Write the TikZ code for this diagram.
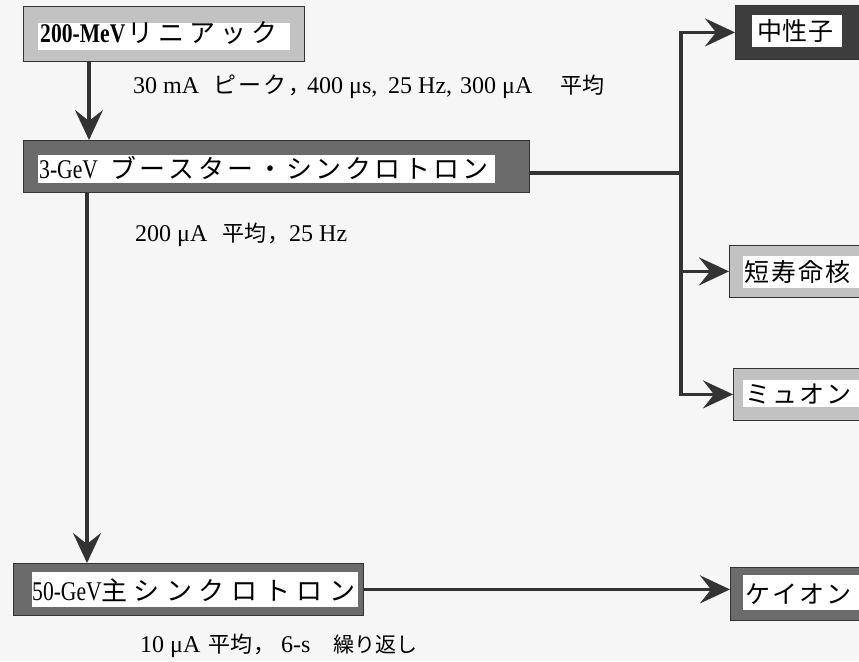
\documentclass[tikz,border=0pt]{standalone}
\usepackage{fontspec}
\setmainfont{Liberation Serif}
\newfontfamily\boxlat[FakeStretch=0.8]{Liberation Serif}
\newfontfamily\jp{Noto Sans CJK JP}
\usetikzlibrary{arrows.meta}
\newlength\cpitch
\def\pitchedi#1{\ifx\relax#1\else\makebox[\cpitch][l]{#1}\expandafter\pitchedi\fi}
\newcommand\jpp[2]{\setlength\cpitch{#1}\pitchedi#2\relax}
\definecolor{paper}{gray}{0.965}
\definecolor{lgt}{gray}{0.76}
\definecolor{drk}{gray}{0.42}
\definecolor{vdrk}{gray}{0.24}
\definecolor{ink}{gray}{0.2}
\begin{document}
\begin{tikzpicture}[x=1pt,y=-1pt,
  obox/.style={rectangle, anchor=north west, draw=ink, line width=0.8pt, inner sep=0pt},
  conn/.style={draw=ink, line width=3.2pt},
  arr/.style={conn, -{Stealth[length=30pt,width=28pt,inset=11pt]}},
  boxtext/.style={anchor=base west, inner sep=0pt, font=\boxlat\fontsize{27}{30}\selectfont},
  sidetext/.style={anchor=base west, inner sep=0pt, font=\jp\fontsize{25}{30}\selectfont},
  lbl/.style={anchor=base west, inner sep=0pt, font=\fontsize{24}{28}\selectfont},
  ]
\fill[paper] (0,0) rectangle (859,661);
\useasboundingbox (0,0) rectangle (859,661);
\clip (0,0) rectangle (859,661);

% left column boxes
\node[obox, fill=lgt, minimum width=281pt, minimum height=55pt] (linac) at (23,6) {};
\fill[white] (38,23) rectangle (290,50);
\node[boxtext] (linact) at (40,43) {\makebox[87pt][l]{\bfseries 200-MeV}{\jp\fontsize{26}{30}\selectfont\jpp{31pt}{リニアック}}};

\node[obox, fill=drk, minimum width=506pt, minimum height=52pt] (booster) at (23,140) {};
\fill[white] (38,155) rectangle (495,183);
\node[boxtext] (boostert) at (39,178) {\makebox[71pt][l]{3-GeV}{\jp\fontsize{26}{30}\selectfont\jpp{29.4pt}{ブースター・シンクロトロン}}};

\node[obox, fill=drk, minimum width=350pt, minimum height=52pt] (main) at (13,563) {};
\fill[white] (32,572) rectangle (358,607);
\node[boxtext] (maint) at (32,600) {\makebox[69pt][l]{50-GeV}{\jp\fontsize{26}{30}\selectfont\jpp{32.6pt}{主シンクロトロン}}};

% right column boxes
\node[obox, fill=vdrk, minimum width=150pt, minimum height=54pt] (neutron) at (735,5) {};
\fill[white] (752,15) rectangle (842,47);
\node[sidetext] (neutront) at (757,41) {\jpp{25.5pt}{中性子}};

\node[obox, fill=lgt, minimum width=150pt, minimum height=52pt] (rib) at (729,245) {};
\fill[white] (743,256) rectangle (880,288);
\node[sidetext] (ribt) at (744,281) {\jpp{27pt}{短寿命核}};

\node[obox, fill=lgt, minimum width=150pt, minimum height=52pt] (muon) at (733,368) {};
\fill[white] (743,380) rectangle (880,407);
\node[sidetext] (muont) at (745,403) {\jpp{27pt}{ミュオン}};

\node[obox, fill=drk, minimum width=150pt, minimum height=53pt] (kaon) at (730,567) {};
\fill[white] (743,575) rectangle (880,610);
\node[sidetext] (kaont) at (745,603) {\jpp{27pt}{ケイオン}};

% labels
\node[lbl] (l1) at (133,93) {\makebox[80pt][l]{30 mA}\makebox[75pt][l]{\jp\fontsize{23}{26}\selectfont\jpp{25pt}{ピーク}}\makebox[19pt][l]{\jp\fontsize{22}{26}\selectfont ，}\makebox[81pt][l]{400 μs,}\makebox[72pt][l]{25 Hz,}\makebox[100pt][l]{300 μA}{\jp\fontsize{22}{26}\selectfont 平均}};
\node[lbl] (l2) at (135,241) {\makebox[87pt][l]{200 μA}\makebox[45pt][l]{\jp\fontsize{22}{26}\selectfont 平均}\makebox[22pt][l]{\jp\fontsize{22}{26}\selectfont ，}25 Hz};
\node[lbl] (l3) at (140,652) {\makebox[68pt][l]{10 μA}\makebox[45pt][l]{\jp\fontsize{22}{26}\selectfont 平均}\makebox[28pt][l]{\jp\fontsize{22}{26}\selectfont ，}\makebox[52pt][l]{6-s}{\jp\fontsize{21}{26}\selectfont 繰り返し}};

% connectors
\coordinate (colA) at (89,0);
\coordinate (colB) at (87,0);
\coordinate (jx) at (681,0);
\coordinate (bout) at (529,173);
\draw[arr] (linac.south -| colA) -- (booster.north -| colA);
\draw[arr] (booster.south -| colB) -- (main.north -| colB);
\draw[conn] (bout) -- (bout -| jx);
\draw[conn, line cap=rect] (neutron.west -| jx) -- (muon.west -| jx);
\draw[arr] (neutron.west -| jx) -- (neutron.west);
\draw[arr] (rib.west -| jx) -- (rib.west);
\draw[arr] (muon.west -| jx) -- (muon.west);
\draw[arr] (main.east) -- (main.east -| kaon.west);
\end{tikzpicture}
\end{document}
